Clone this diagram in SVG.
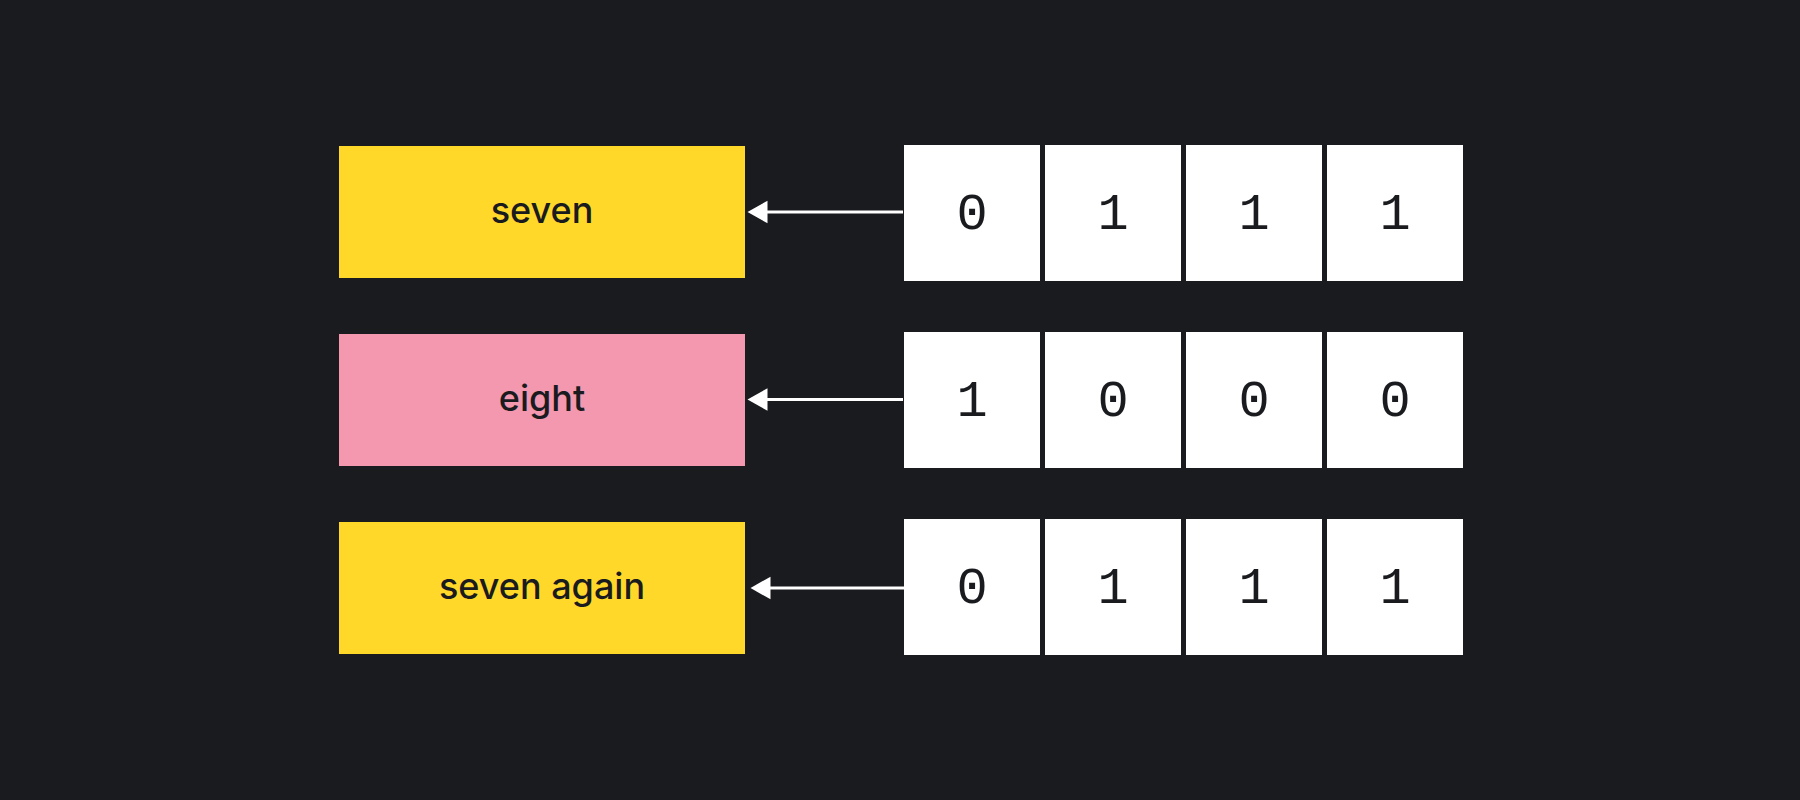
<svg xmlns="http://www.w3.org/2000/svg" width="1800" height="800" viewBox="0 0 1800 800">
<defs>
<style>
.bg{fill:#1a1b1f}
.yellow{fill:#ffd829}
.pink{fill:#f398ae}
.cell{fill:#ffffff}
.label{font-family:Inter,"Liberation Sans",sans-serif;font-size:36px;font-weight:500;fill:#1a1b1f;text-anchor:middle}
.digit{font-family:"Liberation Mono","DejaVu Sans Mono",monospace;font-size:52px;fill:#1a1b1f;text-anchor:middle}
.conn{stroke:#ffffff;stroke-width:3;fill:none}
</style>
<marker id="arrow" markerUnits="userSpaceOnUse" markerWidth="22" markerHeight="24" refX="0.5" refY="12" orient="auto" viewBox="0 0 22 24">
<path d="M0 0.7 L20 12 L0 23.3 Z" fill="#ffffff"/>
</marker>
</defs>
<rect class="bg" x="0" y="0" width="1800" height="800"/>
<g id="seven">
<rect class="yellow" x="339" y="146" width="406" height="132"/>
<text class="label" x="542" y="223">seven</text>
</g>
<g id="eight">
<rect class="pink" x="339" y="334" width="406" height="132"/>
<text class="label" x="542" y="411">eight</text>
</g>
<g id="seven-again">
<rect class="yellow" x="339" y="522" width="406" height="132"/>
<text class="label" x="542" y="599">seven again</text>
</g>
<g id="bits-1">
<rect class="cell" x="904" y="145" width="136" height="136"/>
<rect class="cell" x="1045" y="145" width="136" height="136"/>
<rect class="cell" x="1186" y="145" width="136" height="136"/>
<rect class="cell" x="1327" y="145" width="136" height="136"/>
<text class="digit" x="972" y="229">0</text>
<text class="digit" x="1113" y="229">1</text>
<text class="digit" x="1254" y="229">1</text>
<text class="digit" x="1395" y="229">1</text>
</g>
<g id="bits-2">
<rect class="cell" x="904" y="332" width="136" height="136"/>
<rect class="cell" x="1045" y="332" width="136" height="136"/>
<rect class="cell" x="1186" y="332" width="136" height="136"/>
<rect class="cell" x="1327" y="332" width="136" height="136"/>
<text class="digit" x="972" y="416">1</text>
<text class="digit" x="1113" y="416">0</text>
<text class="digit" x="1254" y="416">0</text>
<text class="digit" x="1395" y="416">0</text>
</g>
<g id="bits-3">
<rect class="cell" x="904" y="519" width="136" height="136"/>
<rect class="cell" x="1045" y="519" width="136" height="136"/>
<rect class="cell" x="1186" y="519" width="136" height="136"/>
<rect class="cell" x="1327" y="519" width="136" height="136"/>
<text class="digit" x="972" y="603">0</text>
<text class="digit" x="1113" y="603">1</text>
<text class="digit" x="1254" y="603">1</text>
<text class="digit" x="1395" y="603">1</text>
</g>
<g id="connectors">
<path class="conn" d="M903 212 L767 212" marker-end="url(#arrow)"/>
<path class="conn" d="M903 399.5 L767 399.5" marker-end="url(#arrow)"/>
<path class="conn" d="M904 588 L770 588" marker-end="url(#arrow)"/>
</g>
</svg>
